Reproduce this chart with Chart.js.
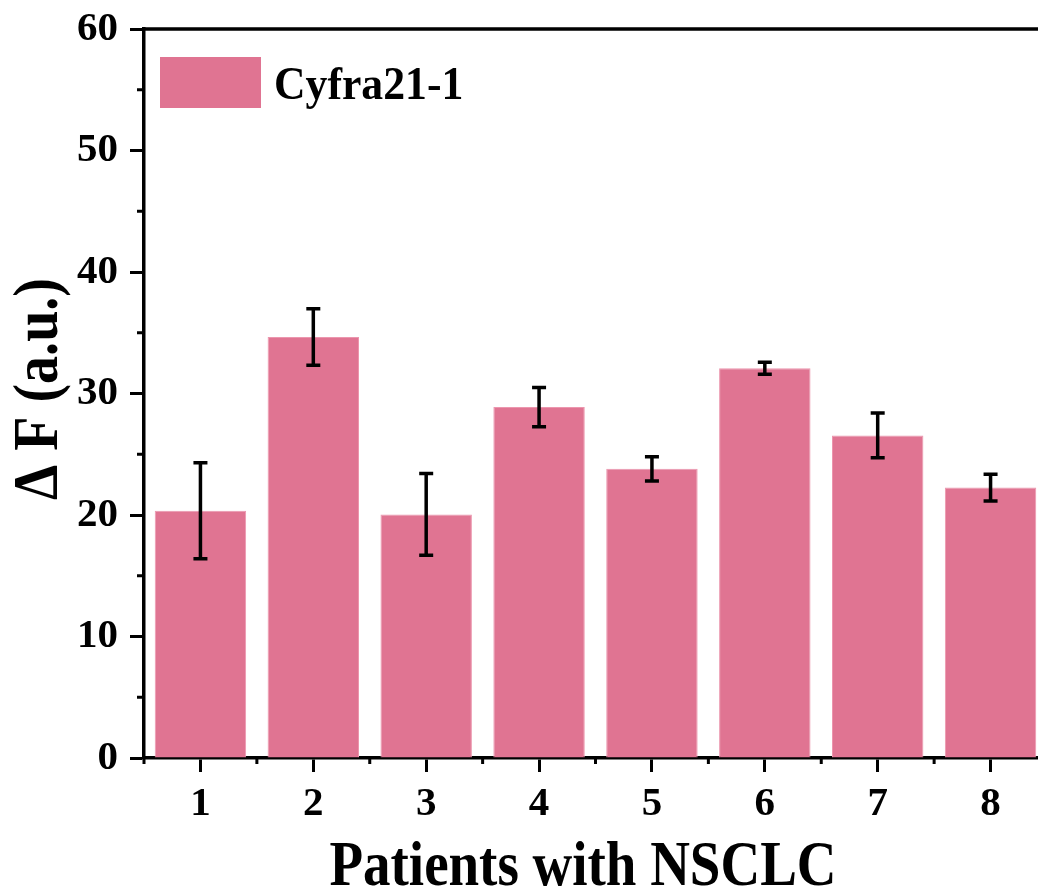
<!DOCTYPE html>
<html>
<head>
<meta charset="utf-8">
<script src="https://cdn.jsdelivr.net/npm/chart.js@4/dist/chart.umd.min.js"></script>
<style>
  html, body { margin: 0; padding: 0; background: #fff; overflow: hidden; }
  #wrap { position: absolute; left: 0; top: 0; width: 1060px; height: 892px; }
</style>
</head>
<body>
<div id="wrap"><canvas id="chart"></canvas></div>
<script>
const patients = ["1", "2", "3", "4", "5", "6", "7", "8"];
const deltaF = [20.35, 34.65, 20.05, 28.88, 23.8, 32.08, 26.55, 22.26];
const deltaFErr = [3.95, 2.33, 3.37, 1.62, 1.0, 0.5, 1.84, 1.1];
const yMinorTicks = [5, 15, 25, 35, 45, 55];

const FONT = "'Liberation Serif', 'Times New Roman', serif";
const barColor = "rgb(224,116,146)";
const AXIS_W = 3.5;

// squeezed bold text, like the original figure's titles
function drawText(ctx, text, x, y, size, width, rotate) {
  ctx.save();
  ctx.font = "bold " + size + "px " + FONT;
  const sx = width / ctx.measureText(text).width;
  ctx.translate(x, y);
  if (rotate) ctx.rotate(-Math.PI / 2);
  ctx.scale(sx, 1);
  ctx.textAlign = "center";
  ctx.textBaseline = "alphabetic";
  ctx.fillStyle = "#000";
  ctx.fillText(text, 0, 0);
  ctx.restore();
}

const extras = {
  id: "extras",
  afterDatasetsDraw(chart) {
    const { ctx, chartArea: a, scales: { x, y } } = chart;
    ctx.save();
    ctx.strokeStyle = "#000";
    ctx.lineWidth = AXIS_W;

    // error bars
    deltaF.forEach((v, i) => {
      const px = x.getPixelForValue(i);
      const hi = y.getPixelForValue(v + deltaFErr[i]);
      const lo = y.getPixelForValue(v - deltaFErr[i]);
      ctx.beginPath();
      ctx.moveTo(px, hi); ctx.lineTo(px, lo);
      ctx.moveTo(px - 7, hi); ctx.lineTo(px + 7, hi);
      ctx.moveTo(px - 7, lo); ctx.lineTo(px + 7, lo);
      ctx.stroke();
    });

    // top and right frame
    ctx.beginPath();
    ctx.moveTo(a.left, a.top);
    ctx.lineTo(a.right, a.top);
    ctx.lineTo(a.right, a.bottom);
    ctx.stroke();

    // minor ticks
    ctx.lineWidth = 3;
    ctx.beginPath();
    yMinorTicks.forEach((v) => {
      const py = y.getPixelForValue(v);
      ctx.moveTo(a.left - 7, py); ctx.lineTo(a.left, py);
    });
    for (let i = 0; i <= patients.length; i++) {
      const px = x.getPixelForValue(i - 0.5);
      ctx.moveTo(px, a.bottom); ctx.lineTo(px, a.bottom + 6);
    }
    ctx.stroke();
    ctx.restore();
  },
  afterDraw(chart) {
    const { ctx, chartArea: a } = chart;
    const ds = chart.data.datasets[0];

    // legend
    ctx.save();
    ctx.fillStyle = ds.backgroundColor;
    ctx.fillRect(a.left + 16, a.top + 28, 101, 51);
    ctx.font = "bold 46px " + FONT;
    const w = ctx.measureText(ds.label).width * 0.95;
    ctx.restore();
    drawText(ctx, ds.label, a.left + 130 + w / 2, a.top + 70, 46, w, false);

    // axis titles
    drawText(ctx, "Patients with NSCLC", 583, 885, 64, 507, false);
    drawText(ctx, "\u0394 F (a.u.)", 57, 389, 64, 222, true);
  }
};

const tickFont = { family: FONT, size: 41, weight: "bold" };

new Chart(document.getElementById("chart"), {
  type: "bar",
  data: {
    labels: patients,
    datasets: [{
      label: "Cyfra21-1",
      data: deltaF,
      backgroundColor: barColor,
      borderColor: "rgb(236,150,174)",
      borderWidth: 1,
      categoryPercentage: 1,
      barPercentage: 0.81
    }]
  },
  options: {
    responsive: true,
    maintainAspectRatio: false,
    animation: false,
    layout: { padding: { left: 0, top: 29, right: 13, bottom: 0 } },
    plugins: {
      legend: { display: false },
      tooltip: { enabled: false }
    },
    scales: {
      x: {
        grid: { offset: false, drawOnChartArea: false, tickLength: 14, tickWidth: 3, tickColor: "#000" },
        border: { width: AXIS_W, color: "#000" },
        ticks: { font: tickFont, color: "#000", padding: 8, maxRotation: 0 },
        afterFit(s) { s.height = 134; s.paddingLeft = 0; s.paddingRight = 0; }
      },
      y: {
        min: 0,
        max: 60,
        grid: { drawOnChartArea: false, tickLength: 14, tickWidth: 3, tickColor: "#000" },
        border: { width: AXIS_W, color: "#000" },
        ticks: { stepSize: 10, font: tickFont, color: "#000", padding: 12 },
        afterFit(s) { s.width = 144; s.paddingTop = 0; s.paddingBottom = 0; }
      }
    }
  },
  plugins: [extras]
});
</script>
</body>
</html>
